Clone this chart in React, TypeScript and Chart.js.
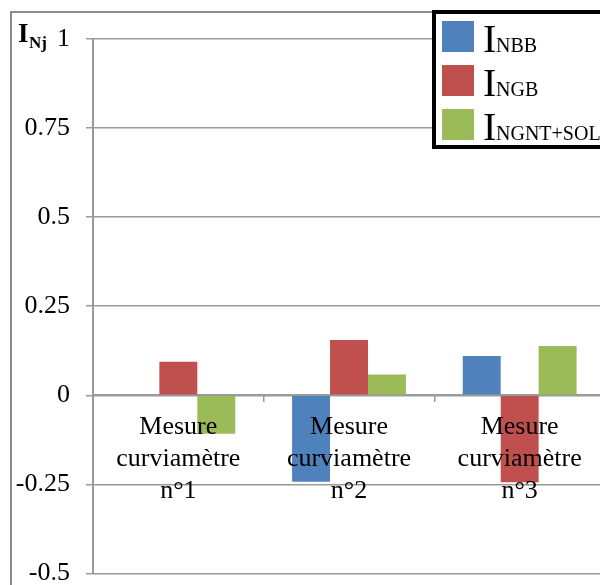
import React, { useEffect, useRef } from "react";
import { Chart, registerables } from "chart.js";

Chart.register(...registerables);

// Categories (multi-line labels) and index values per series
const categories: string[][] = [
  ["Mesure", "curviamètre", "n°1"],
  ["Mesure", "curviamètre", "n°2"],
  ["Mesure", "curviamètre", "n°3"],
];
const seriesNames = ["NBB", "NGB", "NGNT+SOL"];
const valuesNBB = [0, -0.243, 0.11];
const valuesNGB = [0.094, 0.155, -0.244];
const valuesNGNT = [-0.108, 0.058, 0.138];
const seriesColors = ["#4F81BD", "#C0504D", "#9BBB59"];

const yMin = -0.5;
const yMax = 1;
const yStep = 0.25;

const SERIF = "'Liberation Serif', 'Times New Roman', serif";
const GRID = "#9a9a9a";

const decorations = {
  id: "decorations",
  afterDraw(chart: Chart) {
    const ctx = chart.ctx;
    ctx.save();
    // Outer frame
    ctx.strokeStyle = "#8a8a8a";
    ctx.lineWidth = 2;
    ctx.beginPath();
    ctx.moveTo(11, chart.height + 10);
    ctx.lineTo(11, 12);
    ctx.lineTo(chart.width + 10, 12);
    ctx.stroke();

    // Y axis title: I with subscript Nj
    ctx.fillStyle = "#000";
    ctx.textBaseline = "alphabetic";
    ctx.textAlign = "left";
    ctx.font = `bold 27px ${SERIF}`;
    ctx.fillText("I", 18, 42);
    ctx.font = `bold 17px ${SERIF}`;
    ctx.fillText("Nj", 29, 48);

    // Legend box
    const lx = 434;
    const ly = 12;
    ctx.fillStyle = "#fff";
    ctx.fillRect(lx, ly, chart.width, 135);
    ctx.strokeStyle = "#000";
    ctx.lineWidth = 4;
    ctx.strokeRect(lx, ly, chart.width, 135);
    seriesNames.forEach((name, i) => {
      const top = 21 + i * 44;
      ctx.fillStyle = seriesColors[i];
      ctx.fillRect(442, top, 32, 31);
      ctx.fillStyle = "#000";
      ctx.font = `40px ${SERIF}`;
      ctx.fillText("I", 483, top + 31);
      ctx.font = `20px ${SERIF}`;
      ctx.fillText(name, 496, top + 31);
    });
    ctx.restore();
  },
};

export default function App() {
  const ref = useRef<HTMLCanvasElement>(null);

  useEffect(() => {
    const canvas = ref.current;
    if (!canvas) return;
    const chart = new Chart(canvas, {
      type: "bar",
      data: {
        labels: categories,
        datasets: [
          { label: "I NBB", data: valuesNBB, backgroundColor: seriesColors[0] },
          { label: "I NGB", data: valuesNGB, backgroundColor: seriesColors[1] },
          { label: "I NGNT+SOL", data: valuesNGNT, backgroundColor: seriesColors[2] },
        ],
      },
      options: {
        responsive: false,
        animation: false,
        devicePixelRatio: 1,
        layout: { padding: { left: 0, top: 39, right: 35, bottom: 0 } },
        datasets: {
          bar: { categoryPercentage: 0.667, barPercentage: 1, borderWidth: 0 },
        },
        plugins: {
          legend: { display: false },
          tooltip: { enabled: false },
        },
        scales: {
          x: {
            position: { y: 0 },
            offset: true,
            grid: {
              offset: true,
              drawOnChartArea: false,
              drawTicks: true,
              tickLength: 6,
              color: GRID,
              lineWidth: 1.5,
            },
            border: { display: true, color: GRID, width: 2 },
            ticks: {
              z: 1,
              color: "#000",
              padding: 10,
              maxRotation: 0,
              autoSkip: false,
              font: { family: SERIF, size: 26, lineHeight: 1.23 },
            },
          },
          y: {
            min: yMin,
            max: yMax,
            afterFit(scale: any) {
              scale.width = 93;
            },
            grid: { color: GRID, lineWidth: 1.5, tickLength: 7 },
            border: { display: true, color: GRID, width: 2 },
            ticks: {
              stepSize: yStep,
              color: "#000",
              padding: 16,
              font: { family: SERIF, size: 26 },
              callback: (v: any) => String(Math.round(Number(v) * 100) / 100),
            },
          },
        },
      },
      plugins: [decorations],
    });
    return () => chart.destroy();
  }, []);

  return (
    <div
      style={{
        position: "fixed",
        left: 0,
        top: 0,
        width: 600,
        height: 585,
        overflow: "hidden",
        background: "#fff",
      }}
    >
      <canvas ref={ref} width={640} height={605} style={{ display: "block" }} />
    </div>
  );
}
